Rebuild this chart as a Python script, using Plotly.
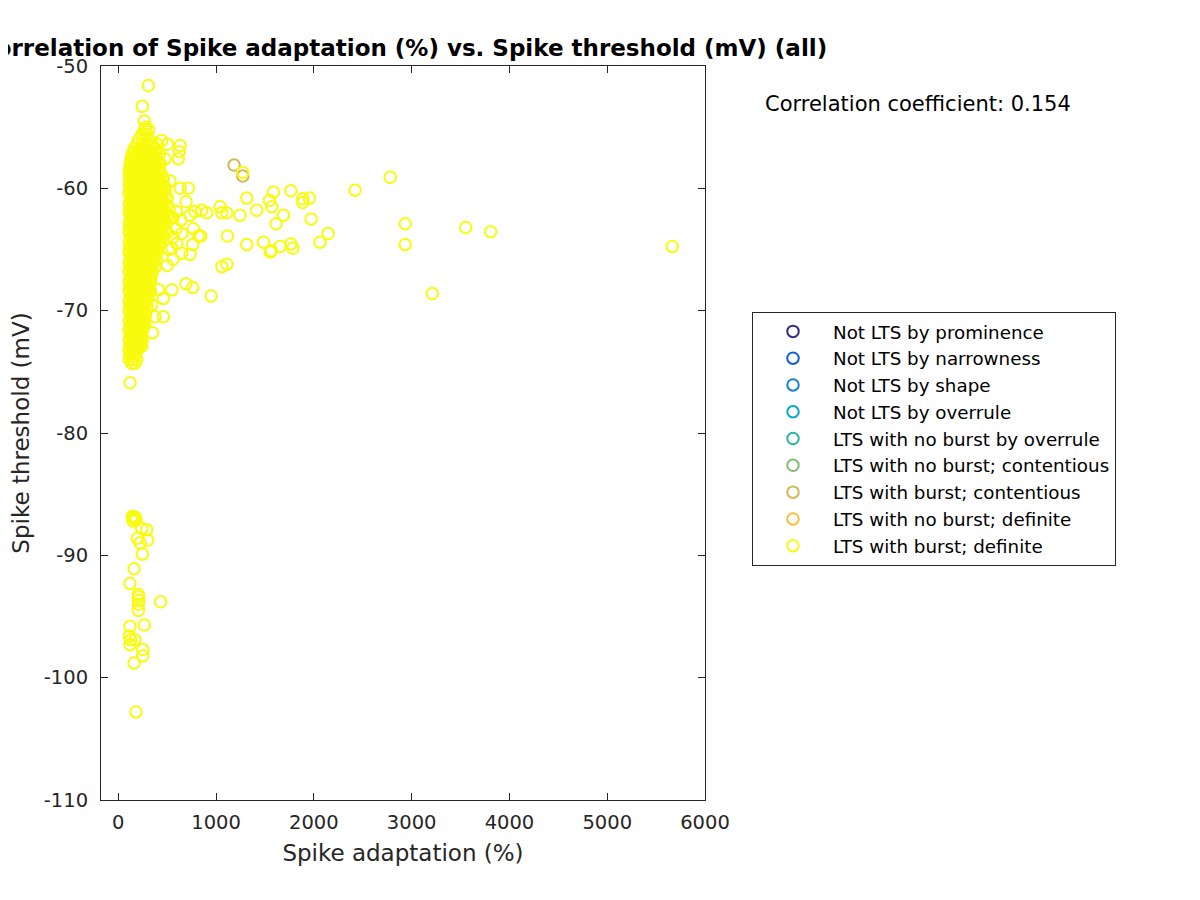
import plotly.graph_objects as go

# ---------------- data ----------------
category_names = [
    "Not LTS by prominence",
    "Not LTS by narrowness",
    "Not LTS by shape",
    "Not LTS by overrule",
    "LTS with no burst by overrule",
    "LTS with no burst; contentious",
    "LTS with burst; contentious",
    "LTS with no burst; definite",
    "LTS with burst; definite",
]
category_colors = [
    "rgb(53,42,135)",
    "rgb(15,92,221)",
    "rgb(20,129,214)",
    "rgb(6,167,198)",
    "rgb(40,182,160)",
    "rgb(126,191,110)",
    "rgb(211,184,85)",
    "rgb(253,190,55)",
    "rgb(249,251,14)",
]

# LTS with burst; contentious
contentious_adapt = [1184, 1273]
contentious_thresh = [-58.1, -59.0]

# LTS with burst; definite -- dense main cluster (rows of threshold, adaptation values)
cluster_thresh_rows = [
    -55.2, -55.6, -56.0, -56.4, -56.8, -57.2, -57.6, -58.0, -58.4, -58.8,
    -59.2, -59.6, -60.0, -60.4, -60.8, -61.2, -61.6, -62.0, -62.4, -62.8,
    -63.2, -63.6, -64.0, -64.4, -64.8, -65.2, -65.6, -66.0, -66.4, -66.8,
    -67.2, -67.6, -68.0, -68.4, -68.8, -69.2, -69.6, -70.0, -70.4, -70.8,
    -71.2, -71.6, -72.0, -72.4, -72.8, -73.2, -73.6, -74.0,
]
cluster_adapt_rows = [
    [270, 310],
    [240, 290],
    [210, 260, 320],
    [190, 240, 290, 350, 400],
    [160, 215, 265, 320, 380],
    [140, 190, 240, 300, 350, 420],
    [130, 170, 220, 275, 330, 390],
    [120, 160, 205, 255, 305, 360, 430],
    [115, 140, 190, 240, 290, 340, 400],
    [112, 165, 215, 265, 320, 370, 440],
    [118, 145, 195, 245, 300, 350, 410, 460],
    [112, 170, 225, 275, 330, 385, 450],
    [120, 150, 200, 250, 305, 360, 420, 480],
    [110, 175, 230, 280, 335, 395, 455],
    [125, 150, 205, 255, 310, 365, 430, 500],
    [112, 180, 230, 285, 340, 400, 470],
    [120, 155, 210, 260, 315, 370, 440, 520],
    [110, 185, 235, 290, 345, 410, 480],
    [125, 160, 210, 265, 320, 375, 450, 540],
    [112, 185, 240, 295, 350, 420, 490],
    [118, 155, 215, 270, 325, 385, 455],
    [110, 185, 240, 300, 355, 420, 500],
    [125, 155, 210, 265, 330, 390, 460],
    [112, 180, 240, 295, 350, 420],
    [120, 150, 210, 265, 320, 380],
    [110, 180, 235, 290, 345, 400],
    [125, 150, 205, 260, 315, 370],
    [112, 180, 235, 290, 345],
    [120, 150, 205, 260, 320, 380],
    [110, 175, 230, 285, 340],
    [125, 150, 205, 255, 310],
    [112, 175, 230, 280, 330],
    [120, 150, 200, 255, 305],
    [110, 175, 225, 280, 330],
    [125, 150, 200, 250, 300],
    [112, 170, 220, 270],
    [120, 145, 195, 245, 295],
    [110, 165, 215, 265],
    [125, 145, 190, 240, 280],
    [112, 165, 210, 255],
    [120, 140, 185, 230, 270],
    [110, 160, 205, 250],
    [122, 140, 185, 225],
    [112, 160, 200, 245],
    [120, 140, 180, 220],
    [110, 155, 200],
    [118, 140, 175],
    [112, 150, 190],
]

# more points inside the dense cluster, between the rows above
fill_thresh_rows = [
    -57.0, -57.4, -57.8, -58.2, -58.6, -59.0, -59.4, -59.8, -60.2, -60.6,
    -61.0, -61.4, -61.8, -62.2, -62.6, -63.0, -63.4, -63.8, -64.2, -64.6,
    -65.0, -65.4, -65.8, -66.2, -66.6, -67.0, -67.4, -67.8, -68.2, -68.6,
    -69.0, -69.4, -69.8, -70.2, -70.6, -71.0, -71.4, -71.8, -72.2, -72.6,
    -73.0, -73.4,
]
fill_adapt_rows = [
    [165, 215, 270, 325, 385],
    [150, 200, 250, 305, 360],
    [140, 185, 235, 290, 345, 410],
    [135, 175, 225, 275, 325, 380],
    [130, 170, 215, 265, 315, 355, 420],
    [135, 185, 235, 285, 335, 395],
    [130, 170, 215, 260, 310, 365, 430],
    [135, 185, 240, 290, 345, 400, 470],
    [130, 165, 215, 265, 320, 375, 440],
    [140, 190, 240, 295, 350, 410, 480],
    [135, 165, 215, 270, 325, 385, 450],
    [140, 195, 245, 300, 355, 420, 495],
    [135, 170, 225, 275, 330, 390, 460],
    [140, 195, 250, 305, 360, 430, 510],
    [135, 170, 225, 280, 335, 395, 470],
    [140, 200, 255, 310, 370, 440],
    [135, 170, 225, 285, 340, 400, 480],
    [140, 195, 255, 315, 370, 440],
    [135, 165, 225, 280, 340, 400],
    [140, 195, 250, 300, 355, 410],
    [135, 165, 220, 275, 330, 385],
    [140, 195, 250, 305, 360],
    [135, 165, 220, 275, 330, 390],
    [140, 195, 250, 305, 360],
    [135, 160, 215, 270, 320],
    [140, 190, 240, 295, 345],
    [135, 160, 215, 265, 320],
    [140, 190, 240, 290],
    [135, 160, 210, 265, 315],
    [140, 190, 235, 285],
    [135, 160, 205, 255, 300],
    [140, 185, 230, 280],
    [135, 155, 205, 255],
    [140, 180, 225, 270],
    [135, 155, 200, 245],
    [140, 175, 220, 260],
    [135, 150, 195, 240],
    [140, 170, 215],
    [135, 150, 190, 235],
    [140, 170, 210],
    [135, 150, 185],
    [130, 165],
]

# LTS with burst; definite -- scattered points
scatter_adapt = [
    307, 246, 266, 280,
    444, 502, 632, 624, 614, 478, 420, 529,
    632, 717, 693, 595, 560, 640, 785, 734, 853, 905, 1041, 1058, 1109, 1245, 1416, 1314, 1273,
    590, 649, 768, 819, 843, 1116, 560, 598, 761, 547, 649, 734, 520, 560, 500, 1059, 1110,
    693, 762, 949, 410, 547, 460, 342, 461, 376, 350, 137, 171, 240, 120,
    1587, 1546, 1570, 1765, 1887, 1955, 1887, 1689, 1614, 1972, 2146, 2062, 1314, 1484,
    1553, 1565, 1655, 1765, 1785, 2421, 2781, 2934, 2934, 3211, 3552, 3808, 5665,
    143, 160, 175, 150, 181, 165,
    240, 291, 301, 195, 222, 246, 161, 120, 205, 205, 210, 205, 434, 205, 266, 120,
    113, 127, 171, 120, 250, 250, 161, 181,
]
scatter_thresh = [
    -51.6, -53.3, -54.5, -55.0,
    -56.1, -56.4, -56.5, -57.0, -57.6, -57.6, -58.6, -59.4,
    -60.0, -60.0, -61.1, -61.9, -62.4, -62.6, -61.9, -62.2, -61.8, -62.0, -61.5, -62.0, -62.0, -62.2, -61.8, -60.8, -58.7,
    -63.3, -63.7, -63.3, -63.9, -63.9, -63.9, -64.0, -64.5, -64.6, -64.9, -65.3, -65.4, -65.0, -65.8, -66.3, -66.4, -66.2,
    -67.8, -68.1, -68.8, -68.3, -68.3, -69.0, -69.5, -70.5, -70.5, -71.8, -74.3, -74.3, -72.9, -75.9,
    -60.3, -61.0, -61.5, -60.2, -60.86, -60.8, -61.16, -62.2, -62.9, -62.5, -63.7, -64.4, -64.6, -64.4,
    -65.2, -65.1, -64.75, -64.55, -64.9, -60.15, -59.1, -62.9, -64.6, -68.6, -63.2, -63.55, -64.75,
    -86.8, -87.0, -86.9, -87.2, -87.1, -86.85,
    -87.8, -87.9, -88.75, -88.6, -89.0, -89.9, -91.1, -92.3, -93.2, -93.4, -93.7, -94.0, -93.8, -94.5, -95.7, -95.8,
    -96.6, -96.9, -96.9, -97.3, -97.7, -98.2, -98.8, -102.8,
]

x_tick_vals = [0, 1000, 2000, 3000, 4000, 5000, 6000]
x_tick_text = ["0", "1000", "2000", "3000", "4000", "5000", "6000"]
y_tick_vals = [-110, -100, -90, -80, -70, -60, -50]
y_tick_text = ["-110", "-100", "-90", "-80", "-70", "-60", "-50"]

title_text = "Correlation of Spike adaptation (%) vs. Spike threshold (mV) (all)"
x_label = "Spike adaptation (%)"
y_label = "Spike threshold (mV)"
corr_text = "Correlation coefficient: 0.154"

# ---------------- build ----------------
burst_def_adapt = []
burst_def_thresh = []
for rows_y, rows_x in ((cluster_thresh_rows, cluster_adapt_rows), (fill_thresh_rows, fill_adapt_rows)):
    for yv, xs in zip(rows_y, rows_x):
        for xv in xs:
            burst_def_adapt.append(xv)
            burst_def_thresh.append(yv)
burst_def_adapt += scatter_adapt
burst_def_thresh += scatter_thresh

series_x = [[None]] * 6 + [contentious_adapt, [None], burst_def_adapt]
series_y = [[None]] * 6 + [contentious_thresh, [None], burst_def_thresh]

FONT = "DejaVu Sans"
AX_COL = "rgb(38,38,38)"

fig = go.Figure()
for name, col, xs, ys in zip(category_names, category_colors, series_x, series_y):
    fig.add_trace(go.Scatter(
        x=xs, y=ys, mode="markers", name=name,
        marker=dict(symbol="circle-open", size=11.5, color=col,
                    line=dict(width=2, color=col)),
        cliponaxis=True,
    ))

axis_common = dict(
    showline=True, linecolor=AX_COL, linewidth=1, mirror="ticks",
    ticks="inside", ticklen=7, tickcolor=AX_COL, tickwidth=1,
    showgrid=False, zeroline=False,
    tickfont=dict(family=FONT, size=19.5, color=AX_COL),
)

# page has an 8px body margin; figure coords = page coords - 8
fig.update_layout(
    width=1200, height=900,
    margin=dict(l=93, r=503, t=58, b=108, pad=0),
    paper_bgcolor="white", plot_bgcolor="white",
    font=dict(family=FONT, color=AX_COL),
    title=dict(text="<b>" + title_text + "</b>", x=395 / 1200, xanchor="center",
               y=1 - 40 / 900, yanchor="middle",
               font=dict(family=FONT, size=23, color="black")),
    xaxis=dict(range=[-177, 6000], tickvals=x_tick_vals, ticktext=x_tick_text,
               title=dict(text=x_label, font=dict(family=FONT, size=23, color=AX_COL), standoff=11),
               ticklabelstandoff=5, **axis_common),
    yaxis=dict(range=[-110, -50], tickvals=y_tick_vals, ticktext=y_tick_text,
               title=dict(text=y_label, font=dict(family=FONT, size=23, color=AX_COL), standoff=8),
               ticklabelstandoff=8, **axis_common),
    legend=dict(x=(752 - 101) / 604, y=(800 - 312) / 734, xanchor="left", yanchor="top",
                bordercolor="rgb(38,38,38)", borderwidth=1, bgcolor="white",
                font=dict(family=FONT, size=18.3, color="black"),
                itemwidth=70, tracegroupgap=0),
    showlegend=True,
    annotations=[dict(text=corr_text, xref="paper", yref="paper",
                      x=(763 - 101) / 604, y=(800 - 104) / 734, xanchor="left", yanchor="middle",
                      showarrow=False, font=dict(family=FONT, size=21, color="black"))],
)

fig.write_html("out.html")
